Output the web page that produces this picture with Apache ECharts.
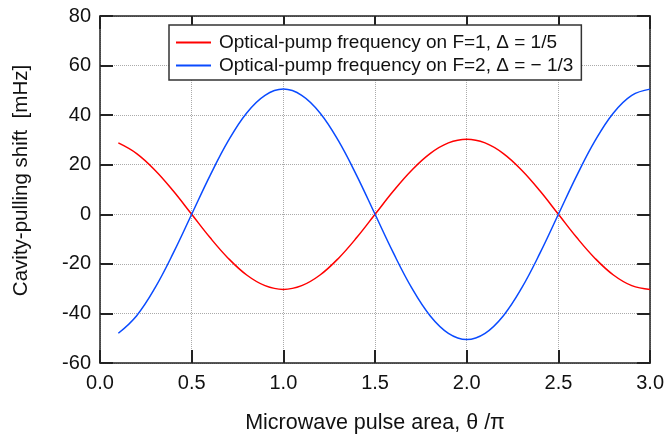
<!DOCTYPE html>
<html>
<head>
<meta charset="utf-8">
<script src="https://cdn.jsdelivr.net/npm/echarts@6/dist/echarts.min.js"></script>
<style>
  html, body { margin: 0; padding: 0; background: #fff; }
  #chart { width: 667px; height: 440px; }
</style>
</head>
<body>
<div id="chart"></div>
<script>
// pulse area theta/pi
var xValues = [0.1, 0.2, 0.3, 0.4, 0.5, 0.6, 0.7, 0.8, 0.9, 1.0,
               1.1, 1.2, 1.3, 1.4, 1.5, 1.6, 1.7, 1.8, 1.9, 2.0,
               2.1, 2.2, 2.3, 2.4, 2.5, 2.6, 2.7, 2.8, 2.9, 3.0];
// F=1, delta = 1/5
var shiftF1 = [28.8, 24.5, 17.8, 9.4, 0, -9.4, -17.8, -24.5, -28.8, -30.3,
               -28.8, -24.5, -17.8, -9.4, 0, 9.4, 17.8, 24.5, 28.8, 30.3,
               28.8, 24.5, 17.8, 9.4, 0, -9.4, -17.8, -24.5, -28.8, -30.3];
// F=2, delta = -1/3
var shiftF2 = [-48.0, -40.9, -29.7, -15.6, 0, 15.6, 29.7, 40.9, 48.0, 50.5,
               48.0, 40.9, 29.7, 15.6, 0, -15.6, -29.7, -40.9, -48.0, -50.5,
               -48.0, -40.9, -29.7, -15.6, 0, 15.6, 29.7, 40.9, 48.0, 50.5];

var nameF1 = 'Optical-pump frequency on F=1, \u0394 = 1/5';
var nameF2 = 'Optical-pump frequency on F=2, \u0394 = \u2212 1/3';

function pairs(ys) {
    return xValues.map(function (x, i) { return [x, ys[i]]; });
}

var font = 'Liberation Sans, Arial, sans-serif';
function axisLine() {
    return { show: true, onZero: false, lineStyle: { color: '#222', width: 1.5 } };
}
function tick() {
    // ticks point into the plot, on all four sides
    return { show: true, inside: true, length: 13, lineStyle: { color: '#222', width: 2 } };
}
var gridLine = { show: true, lineStyle: { color: '#aaa', type: 'dotted', width: 1 } };

var myChart = echarts.init(document.getElementById('chart'));
var option = {
    animation: false,
    grid: { left: 100, right: 15, top: 16, bottom: 77 },
    legend: {
        orient: 'vertical',
        left: 169,
        top: 25,
        padding: [7, 8, 4, 7],
        itemGap: 2,
        itemWidth: 35,
        itemHeight: 2,
        icon: 'rect',
        backgroundColor: '#fff',
        borderColor: '#333',
        borderWidth: 1.5,
        borderRadius: 0,
        textStyle: { fontFamily: font, fontSize: 19, color: '#111', lineHeight: 21, padding: [0, 0, 0, 3] },
        data: [nameF1, nameF2]
    },
    xAxis: [{
        type: 'value',
        min: 0,
        max: 3,
        interval: 0.5,
        name: 'Microwave pulse area, \u03b8 /\u03c0',
        nameLocation: 'middle',
        nameGap: 49,
        nameTextStyle: { fontFamily: font, fontSize: 21.5, color: '#111' },
        axisLine: axisLine(),
        axisTick: tick(),
        axisLabel: {
            margin: 10,
            fontFamily: font, fontSize: 20, color: '#111',
            formatter: function (v) { return v.toFixed(1); }
        },
        splitLine: gridLine
    }, {
        type: 'value',
        position: 'top',
        min: 0,
        max: 3,
        interval: 0.5,
        axisLine: axisLine(),
        axisTick: tick(),
        axisLabel: { show: false },
        splitLine: { show: false }
    }],
    yAxis: [{
        type: 'value',
        min: -60,
        max: 80,
        interval: 20,
        name: 'Cavity-pulling shift  [mHz]',
        nameLocation: 'middle',
        nameGap: 68,
        nameTextStyle: { fontFamily: font, fontSize: 20.5, color: '#111', padding: [0, 0, 0, 18] },
        axisLine: axisLine(),
        axisTick: tick(),
        axisLabel: { margin: 9, fontFamily: font, fontSize: 20, color: '#111' },
        splitLine: gridLine
    }, {
        type: 'value',
        position: 'right',
        min: -60,
        max: 80,
        interval: 20,
        axisLine: axisLine(),
        axisTick: tick(),
        axisLabel: { show: false },
        splitLine: { show: false }
    }],
    series: [{
        name: nameF1,
        type: 'line',
        data: pairs(shiftF1),
        smooth: 0.4,
        symbol: 'none',
        z: 3,
        lineStyle: { color: '#ff0000', width: 1.5 },
        itemStyle: { color: '#ff0000' }
    }, {
        name: nameF2,
        type: 'line',
        data: pairs(shiftF2),
        smooth: 0.4,
        symbol: 'none',
        z: 3,
        lineStyle: { color: '#0a4bff', width: 1.5 },
        itemStyle: { color: '#0a4bff' }
    }]
};
myChart.setOption(option);
</script>
</body>
</html>
